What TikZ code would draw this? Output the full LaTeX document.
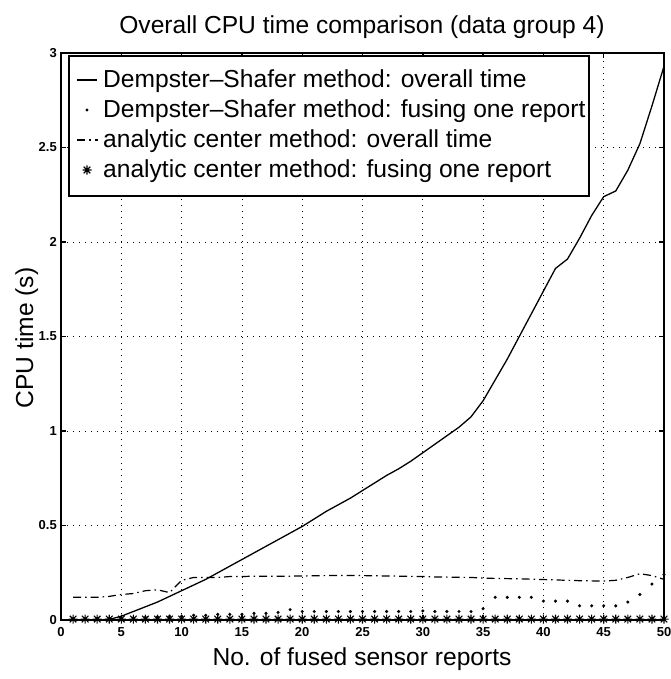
\documentclass[tikz,border=0pt]{standalone}
\usepackage{fontspec}
\setmainfont{Liberation Sans}
\begin{document}
\begin{tikzpicture}[x=1pt,y=-1pt,
  lbl/.style={inner sep=0pt, font=\fontsize{24.6}{28}\selectfont},
  ticklbl/.style={inner sep=0pt, font=\fontsize{13}{15}\selectfont\bfseries},
  gridline/.style={line width=0.8pt, dash pattern=on 1pt off 5pt},
  axisline/.style={line width=1.4pt},
  dscurve/.style={line width=1.3pt},
  accurve/.style={line width=1.2pt, dash pattern=on 8pt off 4pt on 1.5pt off 4pt},
  starmark/.style={line width=1.1pt},
]
\useasboundingbox (0,0) rectangle (670,679);
\fill[white] (0,0) rectangle (670,679);

\node[lbl, anchor=base] (title) at (362,34) {Overall CPU time comparison (data group 4)};
\node[lbl, anchor=base] (xlabel) at (362,665) {No. of fused sensor reports};
\node[lbl, anchor=base, rotate=90] (ylabel) at (33,338) {CPU time (s)};

\begin{scope}[shift={(61,620)}, x=12.06pt, y=189pt]
  % grid
  \foreach \n in {5,10,...,45} \draw[gridline] (\n,0) -- (\n,3);
  \foreach \v in {0.5,1,1.5,2,2.5} \draw[gridline] (0,\v) -- (50,\v);
  % ticks
  \foreach \n [count=\i] in {0,5,10,15,20,25,30,35,40,45,50} {
    \draw[axisline] (\n,0) -- ++(0,5pt);
    \draw[axisline] (\n,3) -- ++(0,-5pt);
    \node[ticklbl, anchor=north] (xt\i) at ([yshift=-7pt]\n,0) {\n};
  }
  \foreach \v [count=\i] in {0,0.5,1,1.5,2,2.5,3} {
    \draw[axisline] (0,\v) -- ++(5pt,0);
    \draw[axisline] (50,\v) -- ++(-5pt,0);
    \node[ticklbl, anchor=east] (yt\i) at ([xshift=-4pt]0,\v) {\v};
  }
  % analytic center: overall time (dash-dot)
  \draw[accurve] plot coordinates {(1,0.12) (2,0.12) (3,0.12) (4,0.125) (5,0.135) (6,0.14) (7,0.155) (8,0.16) (9,0.145) (10,0.21) (11,0.225) (12,0.225) (13,0.225) (14,0.23) (15,0.23) (16,0.232) (17,0.232) (18,0.232) (19,0.232) (20,0.233) (21,0.234) (22,0.235) (23,0.235) (24,0.235) (25,0.235) (26,0.234) (27,0.233) (28,0.232) (29,0.231) (30,0.23) (31,0.228) (32,0.227) (33,0.226) (34,0.225) (35,0.222) (36,0.22) (37,0.219) (38,0.218) (39,0.216) (40,0.214) (41,0.212) (42,0.21) (43,0.208) (44,0.207) (45,0.206) (46,0.21) (47,0.225) (48,0.245) (49,0.235) (50,0.215)};
  % Dempster-Shafer: overall time (solid)
  \draw[dscurve] plot coordinates {(1,0) (2,0) (3,0) (4,0.003) (5,0.02) (6,0.045) (7,0.07) (8,0.095) (9,0.125) (10,0.155) (11,0.185) (12,0.215) (13,0.25) (14,0.285) (15,0.32) (16,0.355) (17,0.39) (18,0.425) (19,0.46) (20,0.495) (21,0.535) (22,0.575) (23,0.61) (24,0.645) (25,0.685) (26,0.725) (27,0.765) (28,0.8) (29,0.84) (30,0.885) (31,0.93) (32,0.975) (33,1.02) (34,1.075) (35,1.16) (36,1.27) (37,1.38) (38,1.5) (39,1.62) (40,1.74) (41,1.86) (42,1.91) (43,2.02) (44,2.14) (45,2.24) (46,2.27) (47,2.38) (48,2.52) (49,2.72) (50,2.93)};
  % Dempster-Shafer: fusing one report (dots)
  \foreach \n/\v in {1/0.005,2/0.005,3/0.007,4/0.008,5/0.01,6/0.012,7/0.015,8/0.017,9/0.02,10/0.02,11/0.025,12/0.025,13/0.03,14/0.03,15/0.03,16/0.035,17/0.035,18/0.04,19/0.055,20/0.045,21/0.045,22/0.045,23/0.045,24/0.045,25/0.045,26/0.045,27/0.045,28/0.045,29/0.045,30/0.048,31/0.045,32/0.045,33/0.045,34/0.045,35/0.06,36/0.12,37/0.12,38/0.12,39/0.12,40/0.1,41/0.1,42/0.1,43/0.075,44/0.075,45/0.075,46/0.075,47/0.095,48/0.135,49/0.19,50/0.24}
    \fill (\n,\v) circle (1.7pt);
  % analytic center: fusing one report (stars)
  \foreach \n in {1,...,50}
    \draw[starmark] (\n,0.005) +(-4.5pt,0) -- +(4.5pt,0) +(0,-4.5pt) -- +(0,4.5pt) +(-3.3pt,-3.3pt) -- +(3.3pt,3.3pt) +(-3.3pt,3.3pt) -- +(3.3pt,-3.3pt);
  % frame
  \draw[axisline] (0,0) rectangle (50,3);
\end{scope}

% legend
\draw[line width=1.2pt, fill=white] (69,56) rectangle (589,196);
\node[lbl, anchor=base west] (l1) at (103,88) {Dempster--Shafer method: overall time};
\node[lbl, anchor=base west] (l2) at (103,118) {Dempster--Shafer method: fusing one report};
\node[lbl, anchor=base west] (l3) at (103,148) {analytic center method: overall time};
\node[lbl, anchor=base west] (l4) at (103,178) {analytic center method: fusing one report};
\draw[dscurve] (77,80) -- (97,80);
\fill (87,110) circle (1.7pt);
\draw[accurve] (77,140) -- (98,140);
\draw[starmark] (87,170) +(-4.5pt,0) -- +(4.5pt,0) +(0,-4.5pt) -- +(0,4.5pt) +(-3.3pt,-3.3pt) -- +(3.3pt,3.3pt) +(-3.3pt,3.3pt) -- +(3.3pt,-3.3pt);
\end{tikzpicture}
\end{document}
